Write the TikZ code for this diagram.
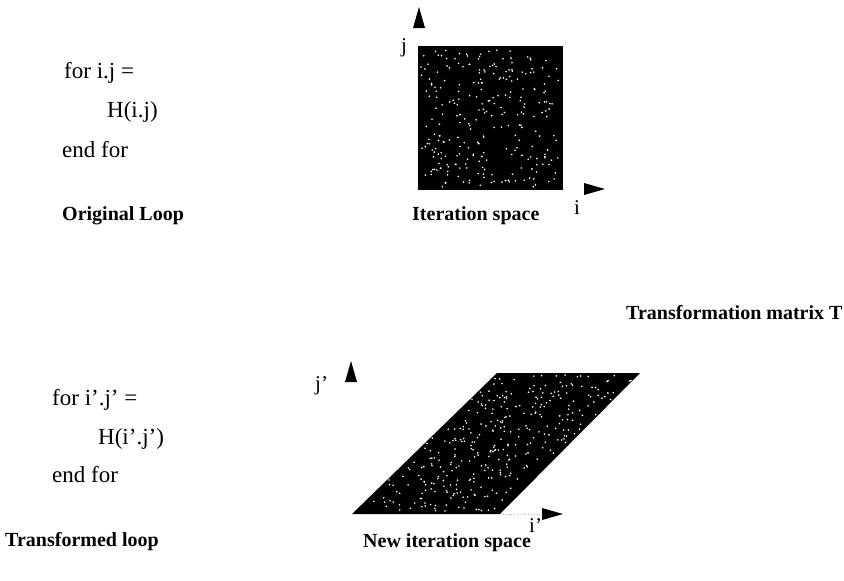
\documentclass[tikz,border=0pt]{standalone}
\usepackage{fontspec}
\setmainfont{Liberation Serif}
\begin{document}
\begin{tikzpicture}[x=1pt,y=-1pt,
  code/.style={font=\fontsize{23}{27}\selectfont, anchor=base west, inner sep=0pt},
  caption/.style={font=\bfseries\fontsize{20}{24}\selectfont, anchor=base west, inner sep=0pt},
  axlab/.style={font=\fontsize{21}{25}\selectfont, anchor=base west, inner sep=0pt},
  space/.style={fill=black},
  speck/.style={fill=white},
  axtip/.style={fill=black}]
\useasboundingbox (0,0) rectangle (844,581);

% ---- original loop ----
\node[code] (for1) at (64,78) {for i.j =};
\node[code] (body1) at (107,117) {H(i.j)};
\node[code] (end1) at (62,157) {end for};
\node[caption] (cap1) at (62,220) {Original Loop};

% ---- iteration space ----
\fill[space] (418,46) rectangle (563,190);
\pgfmathsetseed{7}
\foreach \k in {1,...,260}{
  \pgfmathsetmacro\u{rnd}\pgfmathsetmacro\v{rnd}
  \fill[speck] ({421+139*\u},{49+138*\v}) circle (0.9);
}
\fill[axtip] (413,28) -- (419,7) -- (425,28) -- cycle;
\fill[axtip] (584,183) -- (605,189) -- (584,195) -- cycle;
\node[axlab] (jlab) at (401,52) {j};
\node[axlab] (ilab) at (574,214) {i};
\node[caption] (cap2) at (412,220) {Iteration space};

\node[caption] (capT) at (626,319) {Transformation matrix T};

% ---- transformed loop ----
\node[code] (for2) at (52,405) {for i’.j’ =};
\node[code] (body2) at (98,444) {H(i’.j’)};
\node[code] (end2) at (52,482) {end for};
\node[caption] (cap3) at (5,546) {Transformed loop};

% ---- new iteration space ----
\fill[space] (352,514) -- (500,514) -- (640,373) -- (497,373) -- cycle;
\foreach \k in {1,...,330}{
  \pgfmathsetmacro\u{rnd}\pgfmathsetmacro\v{rnd}
  \fill[speck] ({356+140*\u+141*\v},{511-136*\v}) circle (0.9);
}
\draw[gray!60, dotted, line width=0.8pt] (503,514) -- (540,514);
\fill[axtip] (345,382) -- (351,361) -- (357,382) -- cycle;
\fill[axtip] (542,508) -- (563,514) -- (542,520) -- cycle;
\node[axlab] (jplab) at (315,390) {j’};
\node[axlab] (iplab) at (529,532) {i’};
\node[caption] (cap4) at (363,547) {New iteration space};
\end{tikzpicture}
\end{document}
